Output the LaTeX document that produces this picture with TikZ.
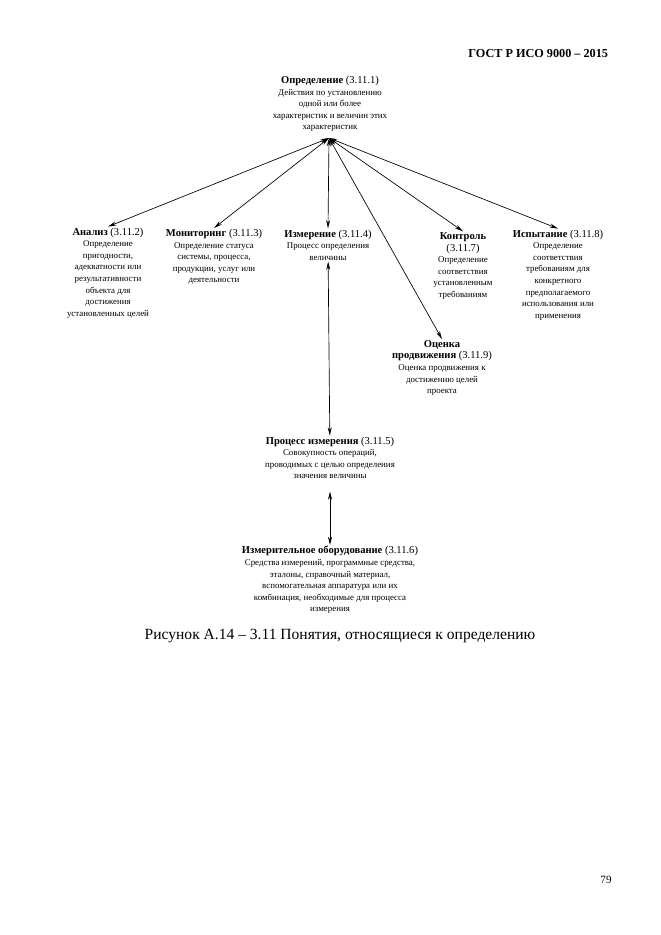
\documentclass[tikz,border=0pt]{standalone}
\usepackage{fontspec}
\setmainfont{Liberation Serif}
\usetikzlibrary{arrows.meta}

\newcommand{\titlesize}{\fontsize{9.5}{11}\selectfont}
\newcommand{\ctitle}[2]{{\titlesize\textbf{#1} (#2)}}

\tikzset{
  concept/.style={align=center,font=\fontsize{8}{10.4}\selectfont,inner sep=1pt},
  rel/.style={{Stealth[length=7.5pt,width=3.6pt]}-{Stealth[length=7.5pt,width=3.6pt]},line width=0.6pt}
}

\begin{document}
\begin{tikzpicture}[x=0.9pt,y=-0.9pt]
    \useasboundingbox (0,0) rectangle (661,935);
    \node[anchor=east,font=\fontsize{11}{13}\selectfont\bfseries] (head) at (612,53) {ГОСТ Р ИСО 9000 – 2015};
    \node[concept] (opr) at (330,104) {\ctitle{Определение}{3.11.1}\\Действия по установлению\\одной или более\\характеристик и величин этих\\характеристик};
    \coordinate (apex) at (329,138);
    \node[concept] (anal) at (108,273) {\ctitle{Анализ}{3.11.2}\\Определение\\пригодности,\\адекватности или\\результативности\\объекта для\\достижения\\установленных целей};
    \node[concept] (mon) at (214,257) {\ctitle{Мониторинг}{3.11.3}\\Определение статуса\\системы, процесса,\\продукции, услуг или\\деятельности};
    \node[concept] (izm) at (328,245) {\ctitle{Измерение}{3.11.4}\\Процесс определения\\величины};
    \node[concept] (kontr) at (463,266) {{\titlesize\textbf{Контроль}}\\{\titlesize(3.11.7)}\\Определение\\соответствия\\установленным\\требованиям};
    \node[concept] (isp) at (558,275) {\ctitle{Испытание}{3.11.8}\\Определение\\соответствия\\требованиям для\\конкретного\\предполагаемого\\использования или\\применения};
    \node[concept] (ocen) at (442,368) {{\titlesize\textbf{Оценка}}\\\ctitle{продвижения}{3.11.9}\\Оценка продвижения к\\достижению целей\\проекта};
    \node[concept] (proc) at (330,458) {\ctitle{Процесс измерения}{3.11.5}\\Совокупность операций,\\проводимых с целью определения\\значения величины};
    \node[concept] (obor) at (330,580) {\ctitle{Измерительное оборудование}{3.11.6}\\Средства измерений, программные средства,\\эталоны, справочный материал,\\вспомогательная аппаратура или их\\комбинация, необходимые для процесса\\измерения};
    \node[font=\fontsize{14}{16}\selectfont] (cap) at (340,636) {Рисунок А.14 – 3.11 Понятия, относящиеся к определению};
    \node[font=\fontsize{10}{12}\selectfont] (page) at (606,880) {79};
    % relations from the top concept
    \draw[rel] (apex) -- (anal.north);
    \draw[rel] (apex) -- (mon.north);
    \draw[rel] (apex) -- (izm.north);
    \draw[rel] (apex) -- (kontr.north);
    \draw[rel] (apex) -- (isp.north);
    \draw[rel] (apex) -- (ocen.north);
    % measurement chain
    \draw[rel] (izm) -- (proc);
    \draw[rel,shorten <=10pt] (proc) -- (obor);
\end{tikzpicture}
\end{document}
